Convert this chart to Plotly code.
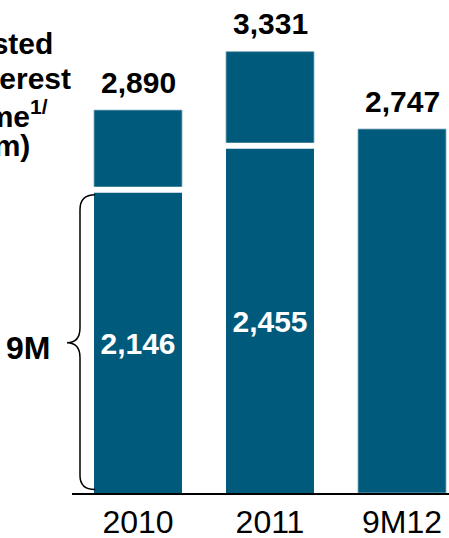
import plotly.graph_objects as go

# ---- data ----
categories = ["2010", "2011", "9M12"]
full_period = [2890, 3331, 2747]
nine_months = [2146, 2455, None]
total_labels = ["2,890", "3,331", "2,747"]
nine_labels = ["2,146", "2,455", ""]
title_lines = ["Adjusted", "Net Interest", "Income<sup>1/</sup>", "(R$ m)"]
brace_label = "9M"

# ---- style ----
W, H = 449, 538
ML, MR, MT, MB = 72, 0, 0, 44.5
PW, PH = W - ML - MR, H - MT - MB
BAR = "#005A7B"
FONT = "Liberation Sans, Arial, sans-serif"
PX_PER_UNIT = 0.13264  # primary axis scale
Y2_ZERO_PX = 496.9     # pixel (from top) of 0 on secondary axis
Y2_SCALE = 0.1430

def px(x):
    return (x - ML) / PW

def py(y):
    return (MT + PH - y) / PH

fig = go.Figure()
fig.add_trace(go.Bar(
    x=categories, y=full_period, width=0.667,
    marker=dict(color=BAR, line=dict(color="#8DB3C6", width=0.8)),
    hoverinfo="skip", showlegend=False,
))
fig.add_trace(go.Bar(
    x=categories, y=nine_months, width=0.712, yaxis="y2",
    marker=dict(color=BAR, line=dict(color="white", width=6)),
    text=nine_labels, textposition="inside", insidetextanchor="middle",
    textangle=0,
    textfont=dict(family=FONT, size=30, color="white", weight="bold"),
    hoverinfo="skip", showlegend=False,
))

annotations = []
for i, (v, t) in enumerate(zip(full_period, total_labels)):
    annotations.append(dict(
        x=i, y=v, xref="x", yref="y", text=t, showarrow=False,
        yanchor="middle", yshift=28,
        font=dict(family=FONT, size=30, color="black", weight="bold"),
    ))

title_right = [55, 73, 50, 32]
title_mid = [44, 79, 114, 146]
for t, xr, ym in zip(title_lines, title_right, title_mid):
    annotations.append(dict(
        x=px(xr), y=py(ym), xref="paper", yref="paper", text=t,
        showarrow=False, xanchor="right", yanchor="middle",
        font=dict(family=FONT, size=30, color="black", weight="bold"),
    ))

annotations.append(dict(
    x=px(52), y=py(348), xref="paper", yref="paper", text=brace_label,
    showarrow=False, xanchor="right", yanchor="middle",
    font=dict(family=FONT, size=32, color="black", weight="bold"),
))

def P(x, y):
    return f"{px(x):.5f},{py(y):.5f}"

brace = (f"M{P(95,195)} Q{P(80,195)} {P(80,210)} L{P(80,328)} "
         f"Q{P(80,343)} {P(67,343)} Q{P(80,343)} {P(80,358)} "
         f"L{P(80,476)} Q{P(80,490)} {P(95,490)}")

fig.update_layout(
    width=W, height=H,
    margin=dict(l=ML, r=MR, t=MT, b=MB, pad=0, autoexpand=False),
    paper_bgcolor="white", plot_bgcolor="white",
    barmode="overlay",
    xaxis=dict(type="category", range=[-0.5, -0.5 + PW / 132.0],
               showline=True, linecolor="black", linewidth=1.5,
               ticks="", showgrid=False, zeroline=False, automargin=False,
               tickfont=dict(family=FONT, size=32, color="black"),
               ticklabelstandoff=0, layer="above traces"),
    yaxis=dict(range=[0, PH / PX_PER_UNIT], visible=False,
               showgrid=False, zeroline=False, automargin=False),
    yaxis2=dict(range=[(Y2_ZERO_PX - (MT + PH)) / Y2_SCALE, (Y2_ZERO_PX - MT) / Y2_SCALE],
                overlaying="y", visible=False, showgrid=False, zeroline=False,
                automargin=False),
    annotations=annotations,
    shapes=[dict(type="path", path=brace, xref="paper", yref="paper",
                 line=dict(color="black", width=1.5))],
)

fig.write_html("out.html", config={"displayModeBar": False})
